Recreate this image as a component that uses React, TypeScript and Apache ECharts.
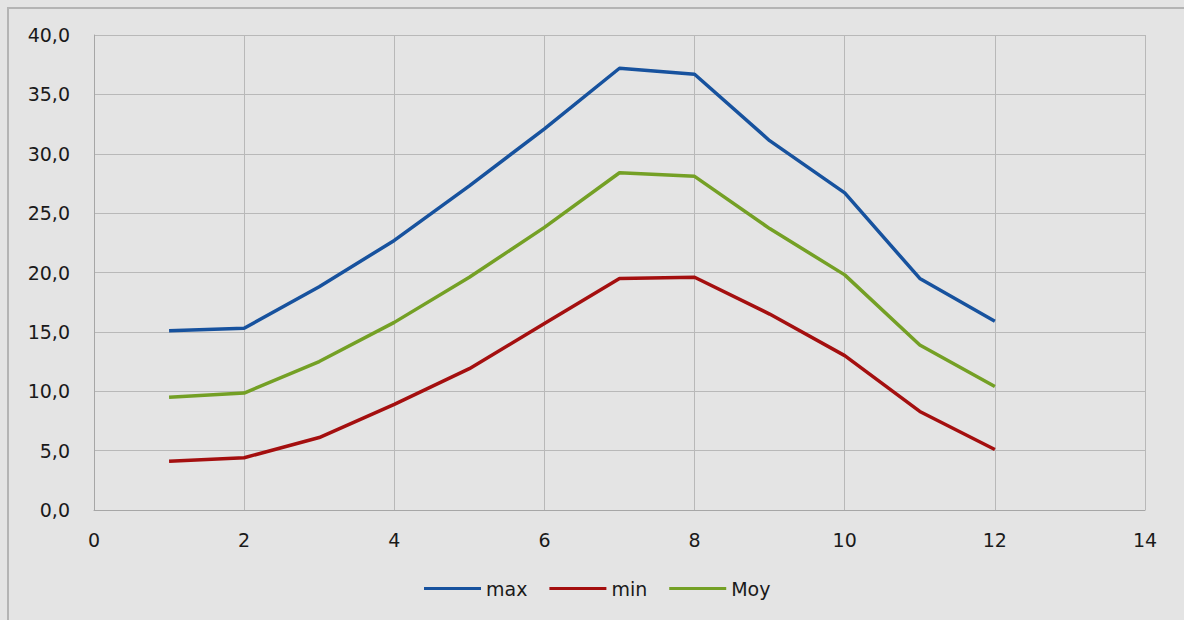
import React, { useEffect, useRef } from "react";
import * as echarts from "echarts";

const months = [1, 2, 3, 4, 5, 6, 7, 8, 9, 10, 11, 12];
const maxVals = [15.1, 15.3, 18.8, 22.7, 27.3, 32.1, 37.2, 36.7, 31.1, 26.7, 19.5, 15.9];
const minVals = [4.1, 4.4, 6.1, 8.9, 11.9, 15.7, 19.5, 19.6, 16.5, 13.0, 8.3, 5.1];
const moyVals = [9.5, 9.85, 12.5, 15.8, 19.6, 23.8, 28.4, 28.1, 23.7, 19.8, 13.9, 10.4];

const seriesNames = ["max", "min", "Moy"];
const seriesColors = ["#17529e", "#a40f0f", "#74a025"];

export default function App() {
  const ref = useRef<HTMLDivElement>(null);
  useEffect(() => {
    document.body.style.margin = "0";
    const chart = echarts.init(ref.current!, null, { renderer: "svg" });
    const data = [maxVals, minVals, moyVals];
    const font = "DejaVu Sans";
    chart.setOption({
      animation: false,
      backgroundColor: "#e4e4e4",
      textStyle: { fontFamily: font },
      graphic: [
        {
          type: "polyline",
          shape: { points: [[8, 620], [8, 8], [1184, 8]] },
          style: { stroke: "#b4b4b4", lineWidth: 2, fill: "none" },
          z: 100,
        },
      ],
      grid: { left: 94, right: 39, top: 35, bottom: 110 },
      legend: {
        left: 424,
        top: 579,
        padding: 0,
        icon: "rect",
        itemWidth: 57,
        itemHeight: 3,
        itemGap: 22,
        textStyle: { fontSize: 19, color: "#1a1a1a", fontFamily: font },
        data: seriesNames,
      },
      xAxis: {
        type: "value",
        min: 0,
        max: 14,
        interval: 2,
        axisLine: { show: true, lineStyle: { color: "#a6a6a6", width: 1 } },
        axisTick: { show: false },
        axisLabel: { fontSize: 19, color: "#1a1a1a", margin: 20, fontFamily: font },
        splitLine: { show: true, lineStyle: { color: "#b8b8b8", width: 1 } },
      },
      yAxis: {
        type: "value",
        min: 0,
        max: 40,
        interval: 5,
        axisLine: { show: true, lineStyle: { color: "#a6a6a6", width: 1 } },
        axisTick: { show: false },
        axisLabel: {
          fontSize: 19,
          color: "#1a1a1a",
          margin: 24,
          fontFamily: font,
          formatter: (v: number) => v.toFixed(1).replace(".", ","),
        },
        splitLine: { show: true, lineStyle: { color: "#b8b8b8", width: 1 } },
      },
      series: seriesNames.map((name, i) => ({
        name,
        type: "line",
        data: months.map((m, j) => [m, data[i][j]]),
        showSymbol: false,
        symbol: "none",
        lineStyle: { color: seriesColors[i], width: 3.5 },
        itemStyle: { color: seriesColors[i] },
      })),
    });
    return () => chart.dispose();
  }, []);
  return <div ref={ref} style={{ width: 1184, height: 620 }} />;
}
